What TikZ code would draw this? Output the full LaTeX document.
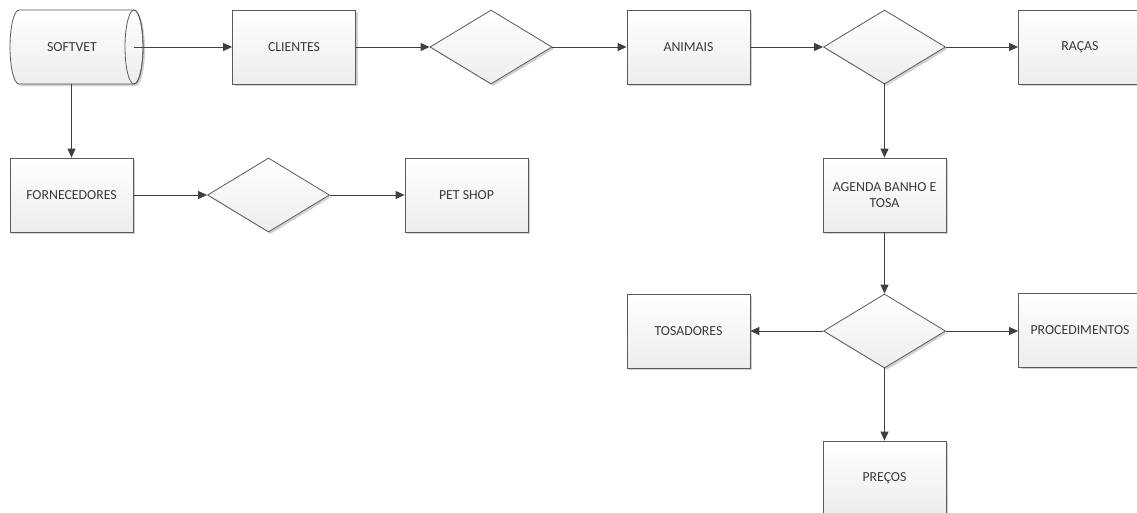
\documentclass[tikz,border=0pt]{standalone}
\usepackage{fontspec}
\setmainfont{Carlito}
\usetikzlibrary{arrows.meta,shapes.geometric,shadows}
\definecolor{lineC}{HTML}{404040}
\definecolor{borderC}{HTML}{5A5A5A}
\definecolor{textC}{HTML}{3A3A3A}
\definecolor{fillB}{HTML}{EDEDED}
\tikzset{
  boxbase/.style={draw=borderC, line width=0.8pt, top color=white, bottom color=fillB,
    text=textC, font=\fontsize{13.8}{16}\selectfont, inner sep=0pt, align=center,
    drop shadow={shadow xshift=2pt, shadow yshift=-2pt, opacity=0.18, fill=black}},
  entbox/.style={boxbase, rectangle, minimum width=123pt, minimum height=74pt},
  decision/.style={boxbase, diamond, minimum width=122pt, minimum height=74pt},
  arr/.style={draw=lineC, line width=0.9pt, -{Triangle[length=9pt,width=8pt]}, fill=lineC}
}
\begin{document}
\begin{tikzpicture}[x=1pt,y=-1pt]
\useasboundingbox (0,0) rectangle (1137,512);
\fill[white] (0,0) rectangle (1137,512);
% SOFTVET cylinder
\fill[black, opacity=0.18] (21,12) -- (136,12) arc[start angle=-90,end angle=90,x radius=9,y radius=37] -- (21,86) arc[start angle=90,end angle=270,x radius=9,y radius=37] -- cycle;
\path[top color=white, bottom color=fillB] (19,10) -- (134,10) arc[start angle=-90,end angle=90,x radius=9,y radius=37] -- (19,84) arc[start angle=90,end angle=270,x radius=9,y radius=37] -- cycle;
\draw[borderC, line width=0.8pt] (19,10) -- (134,10) arc[start angle=-90,end angle=90,x radius=9,y radius=37] -- (19,84) arc[start angle=90,end angle=270,x radius=9,y radius=37] -- cycle;
\draw[borderC, line width=0.8pt] (134,47) ellipse [x radius=9, y radius=37];
\node[text=textC, font=\fontsize{13.8}{16}\selectfont] (softvet) at (72,47) {SOFTVET};
\coordinate (softR) at (134,47);
\coordinate (softB) at (71.5,84);
% top row
\node[entbox] (clientes) at (294,47) {CLIENTES};
\node[decision] (d1) at (491,47) {};
\node[entbox] (animais) at (688.5,47) {ANIMAIS};
\node[decision] (d2) at (884.5,47) {};
\node[entbox] (racas) at (1080,47) {RAÇAS};
% second row
\node[entbox] (fornecedores) at (71.5,195) {FORNECEDORES};
\node[decision] (d4) at (268.5,195) {};
\node[entbox] (petshop) at (466.5,195) {PET SHOP};
\node[entbox] (agenda) at (884.5,195) {AGENDA BANHO E\\TOSA};
% third row
\node[entbox] (tosadores) at (688.5,331) {TOSADORES};
\node[decision] (d3) at (884.5,331) {};
\node[entbox] (procedimentos) at (1080,330) {PROCEDIMENTOS};
\node[entbox] (precos) at (884.5,478) {PREÇOS};
% connectors
\draw[arr] (softR) -- (clientes);
\draw[arr] (clientes) -- (d1);
\draw[arr] (d1) -- (animais);
\draw[arr] (animais) -- (d2);
\draw[arr] (d2) -- (racas);
\draw[arr] (d2) -- (agenda);
\draw[arr] (softB) -- (fornecedores);
\draw[arr] (fornecedores) -- (d4);
\draw[arr] (d4) -- (petshop);
\draw[arr] (agenda) -- (d3);
\draw[arr] (d3) -- (tosadores);
\draw[arr] (d3) -- (procedimentos.west |- d3);
\draw[arr] (d3) -- (precos);
\end{tikzpicture}
\end{document}
